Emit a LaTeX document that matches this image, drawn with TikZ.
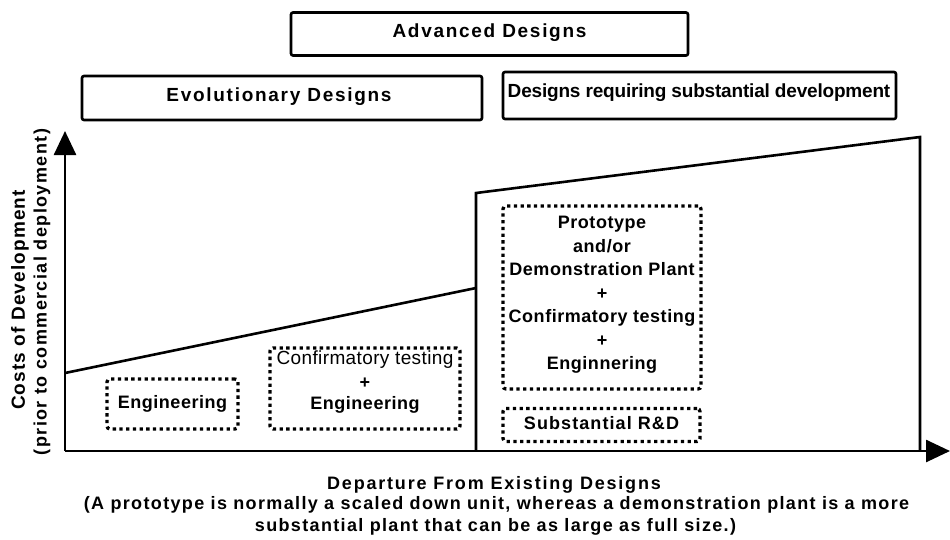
\documentclass[tikz,border=0pt]{standalone}
\usepackage{fontspec}
\setmainfont{Liberation Sans}
\usetikzlibrary{arrows.meta}
\begin{document}
\begin{tikzpicture}[x=1pt,y=-1pt,
 solidbox/.style={draw, line width=2.6pt, rounded corners=2pt, inner sep=0pt},
 dotbox/.style={draw, line width=3.3pt, dash pattern=on 3.3pt off 3.4pt, rounded corners=3pt, inner sep=0pt},
 axisline/.style={line width=2.6pt, -{Triangle[length=24pt,width=22pt]}},
 outline/.style={line width=2.6pt},
 titlefont/.style={font=\fontsize{19}{22}\selectfont\bfseries\addfontfeature{LetterSpace=9}},
 boxfont/.style={font=\fontsize{18}{23.5}\selectfont\bfseries\addfontfeature{LetterSpace=3}, align=center},
 capfont/.style={font=\fontsize{18}{20}\selectfont\bfseries\addfontfeature{LetterSpace=7.5}},
]
\useasboundingbox (0,0) rectangle (950,539);

% top boxes
\node[solidbox, minimum width=397pt, minimum height=43pt] (adv) at (489.5,34) {};
\node[titlefont] (advt) at (489.5,33) {Advanced Designs};
\node[solidbox, minimum width=400pt, minimum height=44pt] (evo) at (282,98) {};
\node[titlefont] (evot) at (279,97) {Evolutionary Designs};
\node[solidbox, minimum width=393pt, minimum height=47pt] (req) at (699.5,95.5) {};
\node[font=\fontsize{19}{22}\selectfont\bfseries\addfontfeature{LetterSpace=-1}] (reqt) at (699,93) {Designs requiring substantial development};

% axes
\coordinate (O) at (65,451);
\coordinate (ytip) at (65,131);
\coordinate (xtip) at (950,451);
\draw[axisline] (O) -- (ytip);
\draw[axisline] (O) -- (xtip);

% cost outline
\coordinate (L0) at (65,373);
\coordinate (L1) at (476,288);
\coordinate (M0) at (476,451);
\coordinate (M1) at (476,193);
\coordinate (R1) at (920,137);
\coordinate (R0) at (920,451);
\draw[outline] (L0) -- (L1);
\draw[outline] (M0) -- (M1) -- (R1) -- (R0);

% dotted boxes
\node[dotbox, minimum width=131pt, minimum height=50pt] (eng) at (172.5,404) {};
\node[boxfont] (engt) at (172.5,404) {Engineering};
\node[dotbox, minimum width=190pt, minimum height=81pt] (ce) at (365,388.5) {};
\node[boxfont, font=\fontsize{19}{22.5}\selectfont\addfontfeature{LetterSpace=2}] (cet1) at (365,360) {Confirmatory testing};
\node[boxfont] (cet2) at (365,383) {+};
\node[boxfont] (cet3) at (365,405) {Engineering};
\node[dotbox, minimum width=198pt, minimum height=183pt] (big) at (602,297.5) {};
\node[boxfont] (bigt) at (602,295) {Prototype\\and/or\\Demonstration Plant\\+\\Confirmatory testing\\+\\Enginnering};
\node[dotbox, minimum width=197pt, minimum height=33pt] (rd) at (601.5,425) {};
\node[boxfont, font=\fontsize{18}{22}\selectfont\bfseries\addfontfeature{LetterSpace=6}] (rdt) at (601.5,423) {Substantial R\&D};

% y label
\node[rotate=90, font=\fontsize{19}{22}\selectfont\bfseries\addfontfeature{LetterSpace=6}] (ylab1) at (20,300) {Costs of Development};
\node[rotate=90, font=\fontsize{18}{20}\selectfont\bfseries\addfontfeature{LetterSpace=8}] (ylab2) at (42,292) {(prior to commercial deployment)};

% x caption
\node[font=\fontsize{18}{22}\selectfont\bfseries\addfontfeature{LetterSpace=10}] (xlab) at (494,485) {Departure From Existing Designs};
\node[capfont] (cap1) at (496.5,505) {(A prototype is normally a scaled down unit, whereas a demonstration plant is a more};
\node[capfont] (cap2) at (495.5,527) {substantial plant that can be as large as full size.)};
\end{tikzpicture}
\end{document}
